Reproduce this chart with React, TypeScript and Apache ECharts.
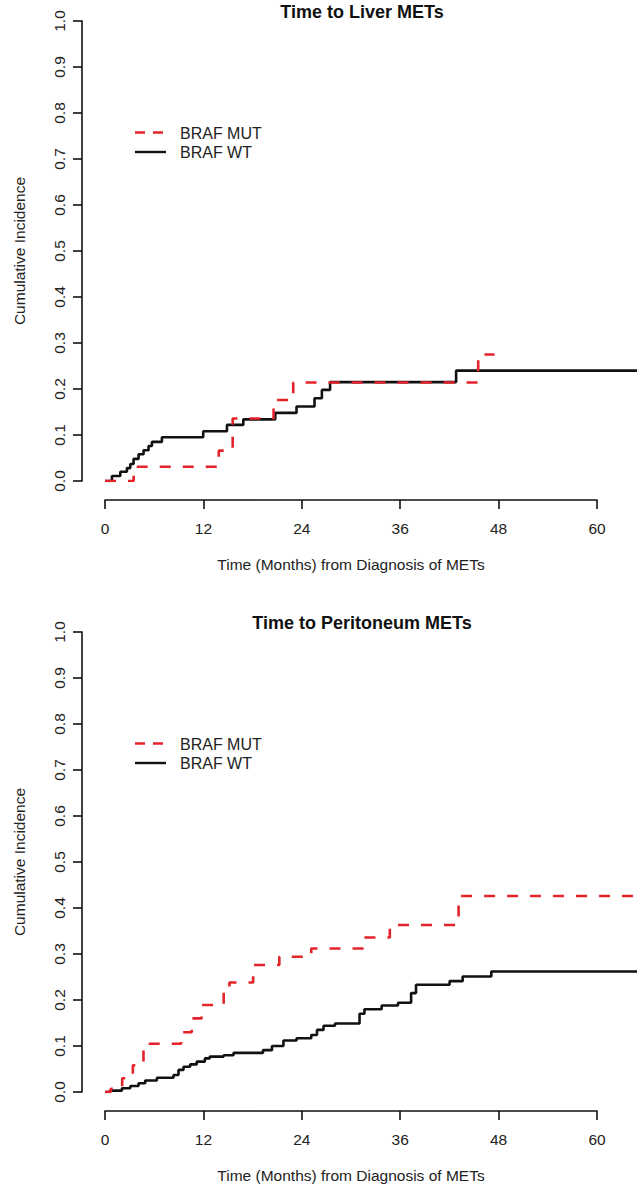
import React, { useEffect, useRef } from "react";
import * as echarts from "echarts";

// ---- Data ----
const xTicks = [0, 12, 24, 36, 48, 60];
const yTicks = [0, 0.1, 0.2, 0.3, 0.4, 0.5, 0.6, 0.7, 0.8, 0.9, 1.0];
const xDataMax = 65; // curves run past the last labelled tick to the figure edge
const seriesNames = ["BRAF MUT", "BRAF WT"];
const titles = ["Time to Liver METs", "Time to Peritoneum METs"];

// Liver
const liverMutT = [0, 3.5, 13.9, 15.6, 20.6, 23.0, 45.6, 47.6];
const liverMutV = [0, 0.031, 0.066, 0.136, 0.176, 0.214, 0.275, 0.275];
const liverWtT = [0, 0.85, 1.87, 2.68, 3.09, 3.49, 4.1, 4.71, 5.32, 5.73, 6.95, 12.0, 14.9, 16.9, 20.8, 23.4, 25.6, 26.5, 27.5, 42.9, 65];
const liverWtV = [0, 0.011, 0.02, 0.028, 0.037, 0.048, 0.058, 0.067, 0.076, 0.085, 0.095, 0.108, 0.122, 0.134, 0.148, 0.162, 0.18, 0.198, 0.215, 0.24, 0.24];

// Peritoneum
const peritMutT = [0, 0.7, 2.1, 3.4, 4.7, 9.3, 10.6, 11.8, 14.5, 15.2, 18.1, 21.3, 25.2, 31.5, 34.8, 43.2, 65];
const peritMutV = [0, 0.007, 0.03, 0.058, 0.105, 0.13, 0.16, 0.189, 0.222, 0.238, 0.276, 0.294, 0.312, 0.336, 0.363, 0.426, 0.426];
const peritWtT = [0, 0.6, 2.07, 3.09, 4.1, 4.91, 6.34, 8.37, 8.98, 9.59, 10.4, 11.2, 12.2, 12.8, 14.5, 15.7, 19.3, 20.4, 21.8, 23.4, 25.2, 25.9, 26.7, 28.1, 31.1, 31.7, 33.8, 35.8, 37.4, 38.0, 42.1, 43.7, 47.2, 65];
const peritWtV = [0, 0.003, 0.008, 0.013, 0.019, 0.025, 0.031, 0.037, 0.048, 0.055, 0.06, 0.066, 0.073, 0.077, 0.08, 0.085, 0.091, 0.1, 0.112, 0.117, 0.124, 0.135, 0.144, 0.149, 0.17, 0.18, 0.188, 0.194, 0.215, 0.233, 0.241, 0.251, 0.262, 0.262];

const RED = "#E4232B";
const BLACK = "#111111";
const FONT = '"Liberation Sans", Arial, Helvetica, sans-serif';

const pair = (t: number[], v: number[]) => t.map((x, i) => [x, v[i]]);

const PANEL_OFFSET = 611;
const GRID_LEFT = 105;
const AXIS_W = 492; // 0..60 months
const GRID_TOP = 21;
const GRID_H = 460;

function buildOption() {
  const panels = [
    { mut: pair(liverMutT, liverMutV), wt: pair(liverWtT, liverWtV) },
    { mut: pair(peritMutT, peritMutV), wt: pair(peritWtT, peritWtV) },
  ];

  const grid: any[] = [];
  const xAxis: any[] = [];
  const yAxis: any[] = [];
  const series: any[] = [];
  const title: any[] = [];
  const graphic: any[] = [];
  const xMax = xTicks[xTicks.length - 1];

  panels.forEach((p, i) => {
    const off = i * PANEL_OFFSET;
    const ga = 2 * i; // axes grid (0..60)
    const gd = 2 * i + 1; // data grid (0..65), same scale
    grid.push({ left: GRID_LEFT, width: AXIS_W, top: GRID_TOP + off, height: GRID_H });
    grid.push({ left: GRID_LEFT, width: (AXIS_W * xDataMax) / xMax, top: GRID_TOP + off, height: GRID_H });

    xAxis.push({
      gridIndex: ga,
      type: "value",
      position: "bottom",
      min: xTicks[0],
      max: xMax,
      interval: 12,
      offset: 19,
      axisLine: { show: true, onZero: false, lineStyle: { color: BLACK, width: 1.6 } },
      axisTick: { show: true, length: 9, lineStyle: { color: BLACK, width: 1.6 } },
      splitLine: { show: false },
      axisLabel: { color: "#222", fontSize: 15.5, fontFamily: FONT, margin: 20 },
      name: "Time (Months) from Diagnosis of METs",
      nameLocation: "middle",
      nameGap: 56,
      nameTextStyle: { color: "#222", fontSize: 15.5, fontFamily: FONT },
    });
    xAxis.push({
      gridIndex: gd,
      type: "value",
      min: 0,
      max: xDataMax,
      show: false,
      axisLine: { show: false, onZero: false },
    });

    yAxis.push({
      gridIndex: ga,
      type: "value",
      position: "left",
      min: yTicks[0],
      max: yTicks[yTicks.length - 1],
      interval: 0.1,
      offset: 23,
      axisLine: { show: true, onZero: false, lineStyle: { color: BLACK, width: 1.6 } },
      axisTick: { show: true, length: 9, lineStyle: { color: BLACK, width: 1.6 } },
      splitLine: { show: false },
      axisLabel: {
        color: "#222",
        fontSize: 15.5,
        fontFamily: FONT,
        rotate: 90,
        margin: 15,
        formatter: (v: number) => v.toFixed(1),
      },
      name: "Cumulative Incidence",
      nameLocation: "middle",
      nameRotate: 90,
      nameGap: 55,
      nameTextStyle: { color: "#222", fontSize: 15.5, fontFamily: FONT },
    });
    yAxis.push({
      gridIndex: gd,
      type: "value",
      min: yTicks[0],
      max: yTicks[yTicks.length - 1],
      show: false,
      axisLine: { show: false, onZero: false },
    });

    series.push({
      type: "line",
      name: seriesNames[0],
      xAxisIndex: gd,
      yAxisIndex: gd,
      step: "end",
      data: p.mut,
      showSymbol: false,
      z: 3,
      lineStyle: { color: RED, width: 2.6, type: [11, 12] },
    });
    series.push({
      type: "line",
      name: seriesNames[1],
      xAxisIndex: gd,
      yAxisIndex: gd,
      step: "end",
      data: p.wt,
      showSymbol: false,
      z: 2,
      lineStyle: { color: BLACK, width: 2.6 },
    });
    title.push({
      text: titles[i],
      left: 362,
      top: 3 + off,
      textAlign: "center",
      padding: 0,
      textStyle: { fontSize: 18, fontWeight: "bold", fontFamily: FONT, color: "#111" },
    });
    graphic.push(
      {
        type: "line",
        shape: { x1: 135, y1: 132.5 + off, x2: 164, y2: 132.5 + off },
        style: { stroke: RED, lineWidth: 2.4, lineDash: [10, 8] },
      },
      {
        type: "text",
        style: { text: seriesNames[0], x: 180, y: 133 + off, fill: "#222", font: `16px ${FONT}`, verticalAlign: "middle" },
      },
      {
        type: "line",
        shape: { x1: 135, y1: 152 + off, x2: 166, y2: 152 + off },
        style: { stroke: BLACK, lineWidth: 2.4 },
      },
      {
        type: "text",
        style: { text: seriesNames[1], x: 180, y: 152 + off, fill: "#222", font: `16px ${FONT}`, verticalAlign: "middle" },
      }
    );
  });

  return {
    animation: false,
    backgroundColor: "#ffffff",
    title,
    grid,
    xAxis,
    yAxis,
    series,
    graphic,
  };
}

export default function App() {
  const ref = useRef<HTMLDivElement>(null);
  useEffect(() => {
    if (!ref.current) return;
    const chart = echarts.init(ref.current, undefined, { renderer: "svg" });
    chart.setOption(buildOption() as any);
    return () => chart.dispose();
  }, []);
  return (
    <div
      ref={ref}
      style={{ position: "absolute", left: 0, top: 0, width: 637, height: 1192, background: "#fff" }}
    />
  );
}
